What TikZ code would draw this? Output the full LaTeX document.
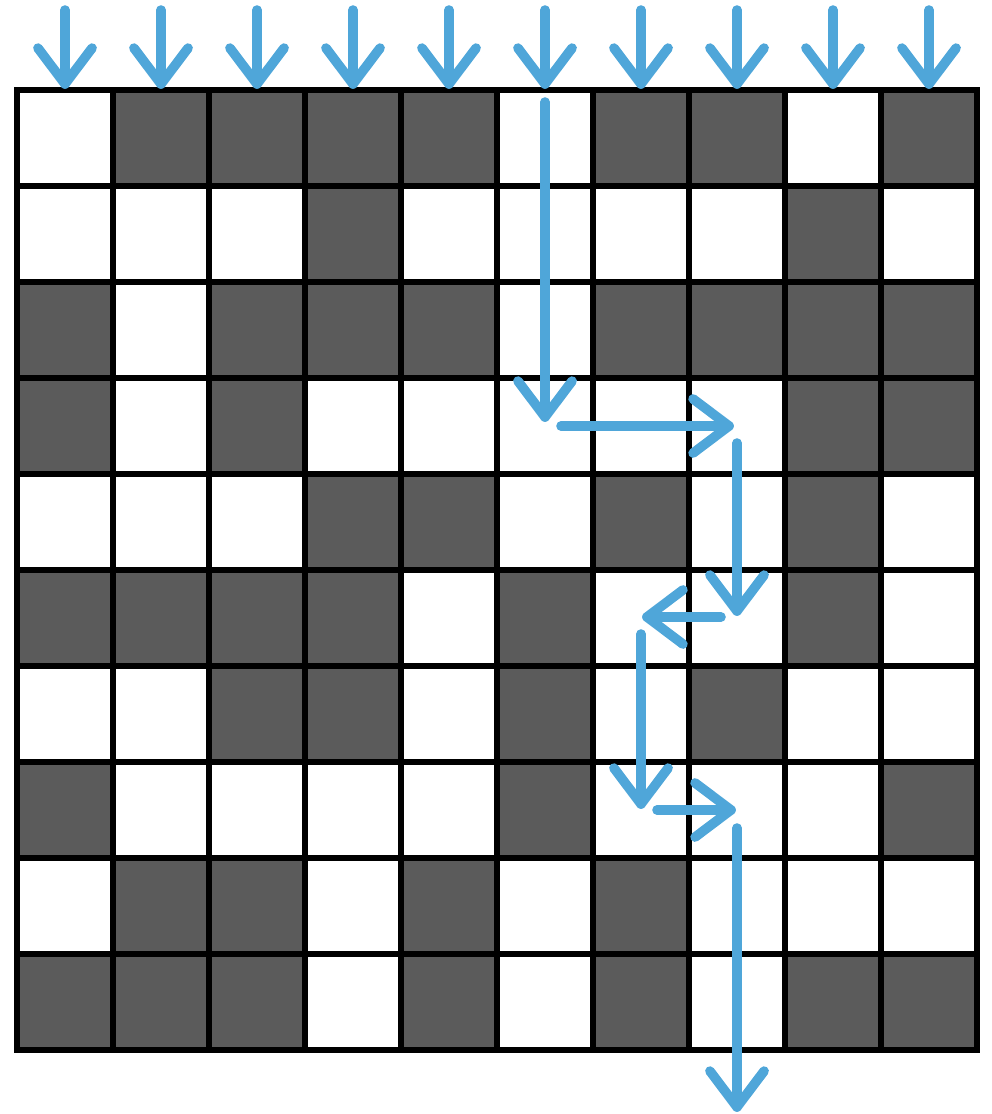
\documentclass[tikz,border=0pt]{standalone}
\usetikzlibrary{calc}
\definecolor{arrowblue}{RGB}{79,166,217}
\definecolor{cellgray}{RGB}{91,91,91}
\newcommand{\barrow}[2]{%
  \draw[flow] (#1) -- (#2);
  \draw[flow] ($(#2)!33.75pt!37:(#1)$) -- (#2) -- ($(#2)!33.75pt!-37:(#1)$);
}
\tikzset{
  flow/.style={draw=arrowblue, line width=7.2pt, line cap=round, line join=round},
  gridline/.style={draw=black, line width=4.5pt, line cap=rect},
  darkcell/.style={fill=cellgray}
}
\begin{document}
\begin{tikzpicture}[x=0.75pt,y=-0.75pt]
\useasboundingbox (0,0) rectangle (992,1114);
% cells
\foreach \row [count=\r from 0] in {
  {0,1,1,1,1,0,1,1,0,1},
  {0,0,0,1,0,0,0,0,1,0},
  {1,0,1,1,1,0,1,1,1,1},
  {1,0,1,0,0,0,0,0,1,1},
  {0,0,0,1,1,0,1,0,1,0},
  {1,1,1,1,0,1,0,0,1,0},
  {0,0,1,1,0,1,0,1,0,0},
  {1,0,0,0,0,1,0,0,0,1},
  {0,1,1,0,1,0,1,0,0,0},
  {1,1,1,0,1,0,1,0,1,1}} {
  \foreach \v [count=\c from 0] in \row {
    \ifnum\v=1
      \path[darkcell] ({17+96*\c},{90+96*\r}) rectangle ++(96,96);
    \fi
  }
}
% grid lines
\foreach \i in {0,...,10} {
  \draw[gridline] ({17+96*\i},90) -- ({17+96*\i},1050);
  \draw[gridline] (17,{90+96*\i}) -- (977,{90+96*\i});
}
% top arrows
\foreach \i in {0,...,9} {
  \coordinate (t\i) at ({65+96*\i},10);
  \coordinate (b\i) at ({65+96*\i},84);
  \barrow{t\i}{b\i}
}
% path arrows
\coordinate (p1s) at (545,102);
\coordinate (p1e) at (545,417);
\coordinate (p2s) at (561,426);
\coordinate (p2e) at (729,426);
\coordinate (p3s) at (737,443);
\coordinate (p3e) at (737,611);
\coordinate (p4s) at (721,617);
\coordinate (p4e) at (647,617);
\coordinate (p5s) at (641,634);
\coordinate (p5e) at (641,804);
\coordinate (p6s) at (657,810);
\coordinate (p6e) at (731,810);
\coordinate (p7s) at (737,828);
\coordinate (p7e) at (737,1107);
\barrow{p1s}{p1e}
\barrow{p2s}{p2e}
\barrow{p3s}{p3e}
\barrow{p4s}{p4e}
\barrow{p5s}{p5e}
\barrow{p6s}{p6e}
\barrow{p7s}{p7e}
\end{tikzpicture}
\end{document}
